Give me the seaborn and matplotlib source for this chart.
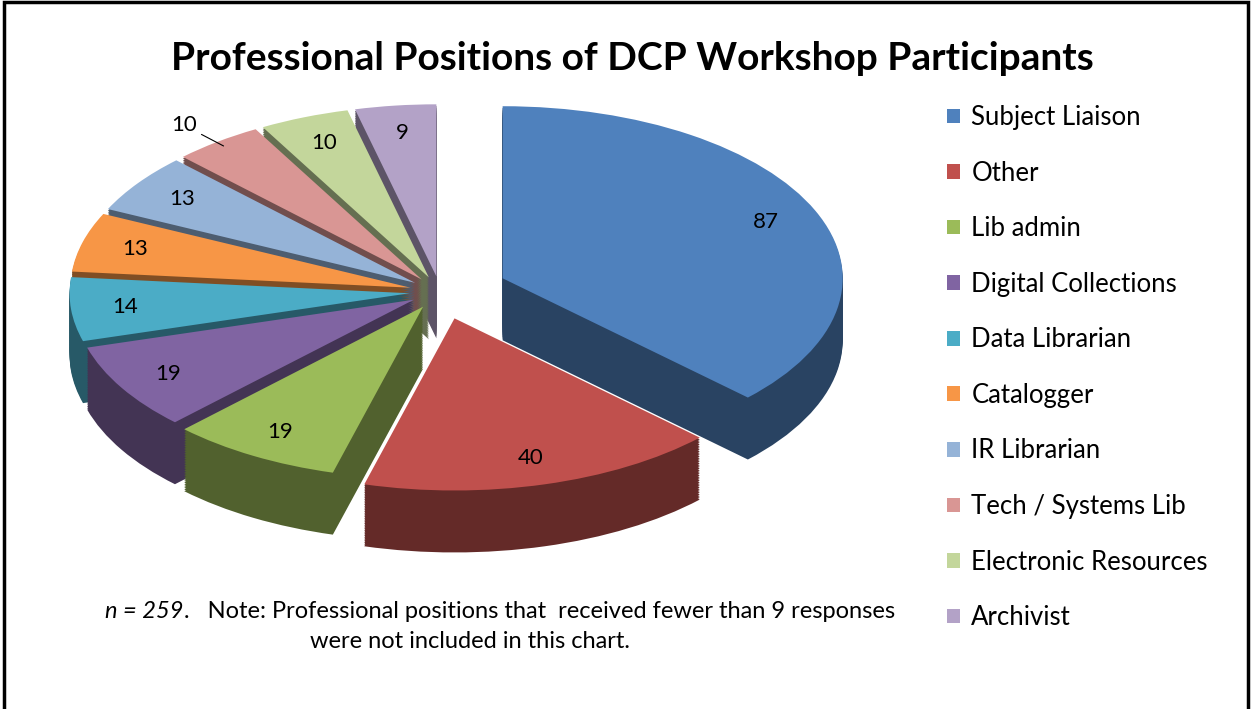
import matplotlib
matplotlib.use("Agg")
import matplotlib.pyplot as plt
from matplotlib.patches import Patch, Rectangle
import numpy as np
import seaborn as sns

# survey counts (slices under 9 responses were left out of the original chart)
positions = ["Subject Liaison", "Other", "Lib admin", "Digital Collections", "Data Librarian",
             "Catalogger", "IR Librarian", "Tech / Systems Lib", "Electronic Resources", "Archivist"]
responses = [87, 40, 19, 19, 14, 13, 13, 10, 10, 9]
n_total = 259
explode = [0.2, 0.16, 0.1, 0.09, 0.09, 0.09, 0.09, 0.09, 0.09, 0.09]
hex_colors = ["#4F81BD", "#C0504D", "#9BBB59", "#8064A2", "#4BACC6",
              "#F79646", "#95B3D7", "#D99694", "#C3D69B", "#B3A2C7"]

sns.set_theme(style="white")
plt.rcParams["font.family"] = ["Lato", "DejaVu Sans"]
plt.rcParams["text.color"] = "black"

palette = sns.color_palette(hex_colors)
side = [tuple(c * 0.52 for c in col) for col in palette]

fig = plt.figure(figsize=(12.52, 7.09), dpi=100)
ax = fig.add_axes([0.012, 0.2, 0.679, 0.704])

# fake 3D: stack darker copies of the pie below the top face
depth = 0.36
layers = 36
for i in range(layers, 0, -1):
    ax.pie(responses, explode=explode, colors=side, startangle=90, counterclock=False,
           center=(0, -depth * i / layers), wedgeprops=dict(linewidth=0))

total = sum(responses)
wedges, _, autotexts = ax.pie(
    responses, explode=explode, colors=palette, startangle=90, counterclock=False,
    autopct=lambda p: f"{p * total / 100:.0f}", pctdistance=0.84,
    wedgeprops=dict(linewidth=0), textprops=dict(fontsize=16, color="black"))

# Tech / Systems Lib label sits outside with a leader line
k = positions.index("Tech / Systems Lib")
w = wedges[k]
mid = np.deg2rad((w.theta1 + w.theta2) / 2)
cx, cy = w.center
autotexts[k].set_visible(False)
ax.annotate(f"{responses[k]}", xy=(cx + 0.97 * np.cos(mid), cy + 0.97 * np.sin(mid)),
            xytext=(cx + 1.1 * np.cos(mid), cy + 1.12 * np.sin(mid)),
            ha="right", va="center", fontsize=16,
            arrowprops=dict(arrowstyle="-", lw=0.8, color="black", shrinkA=1, shrinkB=0))

ax.set_aspect("auto")
ax.set_xlim(-1.25, 1.25)
ax.set_ylim(-1.6, 1.3)
ax.axis("off")

fig.text(0.505, 1 - 58 / 709, "Professional Positions of DCP Workshop Participants",
         ha="center", va="center", fontsize=28, fontweight="bold", color="black")

handles = [Patch(facecolor=c, edgecolor="none") for c in palette]
fig.legend(handles, positions, loc="upper left", bbox_to_anchor=(947 / 1252, 1 - 105 / 709),
           frameon=False, fontsize=18.5, handlelength=0.5, handleheight=0.5,
           handletextpad=0.45, labelspacing=1.19, borderaxespad=0, borderpad=0)

t1 = fig.text(105 / 1252, 1 - 612 / 709, f"n = {n_total}", style="italic",
              fontsize=17, va="center", ha="left")
ax.annotate(".   Note: Professional positions that  received fewer than 9 responses",
            xy=(1, 0.5), xycoords=t1, va="center", ha="left", fontsize=17)
fig.text(470 / 1252, 1 - 641 / 709, "were not included in this chart.",
         ha="center", va="center", fontsize=17)

fig.add_artist(Rectangle((0.003, -0.05), 0.994, 1.047, transform=fig.transFigure,
                         fill=False, edgecolor="black", linewidth=2.5))

fig.savefig("out.png", dpi=100, facecolor="white")
